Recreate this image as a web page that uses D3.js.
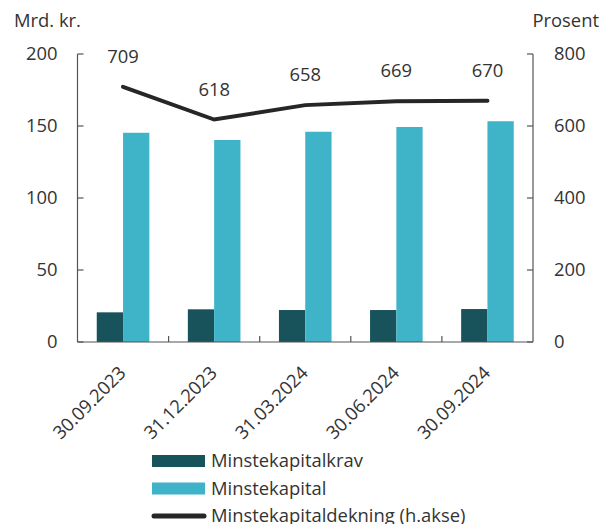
<!DOCTYPE html>
<html>
<head>
<meta charset="utf-8">
<script src="https://cdn.jsdelivr.net/npm/d3@7"></script>
<style>
  body { margin: 0; background: #fff; }
  svg { display: block; font-family: "Open Sans", sans-serif; }
  text { fill: #333; }
</style>
</head>
<body>
<script>
var dates = ['30.09.2023', '31.12.2023', '31.03.2024', '30.06.2024', '30.09.2024'];
var krav = [20.6, 22.7, 22.2, 22.2, 22.9];
var kapital = [145.3, 140.3, 146.0, 149.3, 153.3];
var dekning = [709, 618, 658, 669, 670];
var leftTicks = [0, 50, 100, 150, 200];
var rightTicks = [0, 200, 400, 600, 800];
var legendNames = ['Minstekapitalkrav', 'Minstekapital', 'Minstekapitaldekning (h.akse)'];

var w = 600, h = 524;
var m = { left: 77.5, right: 67, top: 54, bottom: 182 };
var dark = '#18535b', light = '#3fb4c8', lineCol = '#262626';
var fs = '18.4px';

var svg = d3.select('body').append('svg')
  .attr('width', w)
  .attr('height', h);

var x = d3.scaleBand()
  .domain(dates)
  .range([m.left, w - m.right]);

var yL = d3.scaleLinear().domain([0, 200]).range([h - m.bottom, m.top]);
var yR = d3.scaleLinear().domain([0, 800]).range([h - m.bottom, m.top]);

var barW = 26.3;

// bars
svg.selectAll('rect.krav')
  .data(dates)
  .enter().append('rect')
  .attr('x', function (d) { return x(d) + x.bandwidth() / 2 - barW; })
  .attr('y', function (d, i) { return yL(krav[i]); })
  .attr('width', barW)
  .attr('height', function (d, i) { return yL(0) - yL(krav[i]); })
  .attr('fill', dark);

svg.selectAll('rect.kap')
  .data(dates)
  .enter().append('rect')
  .attr('x', function (d) { return x(d) + x.bandwidth() / 2; })
  .attr('y', function (d, i) { return yL(kapital[i]); })
  .attr('width', barW)
  .attr('height', function (d, i) { return yL(0) - yL(kapital[i]); })
  .attr('fill', light);

// axes
var axisCol = '#555';
svg.append('line')
  .attr('x1', m.left).attr('x2', m.left)
  .attr('y1', m.top).attr('y2', yL(0))
  .attr('stroke', axisCol).attr('stroke-width', 1.2);
svg.append('line')
  .attr('x1', w - m.right).attr('x2', w - m.right)
  .attr('y1', m.top).attr('y2', yL(0))
  .attr('stroke', axisCol).attr('stroke-width', 1.2);
svg.append('line')
  .attr('x1', m.left).attr('x2', w - m.right)
  .attr('y1', yL(0)).attr('y2', yL(0))
  .attr('stroke', axisCol).attr('stroke-width', 1.2);

svg.selectAll('line.lt')
  .data(leftTicks)
  .enter().append('line')
  .attr('x1', m.left).attr('x2', m.left + 6)
  .attr('y1', function (d) { return yL(d); })
  .attr('y2', function (d) { return yL(d); })
  .attr('stroke', axisCol).attr('stroke-width', 1.2);

svg.selectAll('text.lt')
  .data(leftTicks)
  .enter().append('text')
  .attr('x', m.left - 20)
  .attr('y', function (d) { return yL(d); })
  .attr('dy', '0.35em')
  .attr('text-anchor', 'end')
  .style('font-size', fs)
  .text(function (d) { return d; });

svg.selectAll('line.rt')
  .data(rightTicks)
  .enter().append('line')
  .attr('x1', w - m.right - 6).attr('x2', w - m.right)
  .attr('y1', function (d) { return yR(d); })
  .attr('y2', function (d) { return yR(d); })
  .attr('stroke', axisCol).attr('stroke-width', 1.2);

svg.selectAll('text.rt')
  .data(rightTicks)
  .enter().append('text')
  .attr('x', w - m.right + 21)
  .attr('y', function (d) { return yR(d); })
  .attr('dy', '0.35em')
  .style('font-size', fs)
  .text(function (d) { return d; });

// category ticks between bands
svg.selectAll('line.ct')
  .data(dates.slice(1))
  .enter().append('line')
  .attr('x1', function (d) { return x(d); })
  .attr('x2', function (d) { return x(d); })
  .attr('y1', yL(0)).attr('y2', yL(0) - 6)
  .attr('stroke', axisCol).attr('stroke-width', 1.2);

svg.selectAll('text.cat')
  .data(dates)
  .enter().append('text')
  .attr('text-anchor', 'end')
  .attr('transform', function (d) {
    return 'translate(' + (x(d) + x.bandwidth() / 2 + 4) + ',' + (yL(0) + 32) + ') rotate(-45)';
  })
  .style('font-size', fs)
  .text(function (d) { return d; });

// axis titles
svg.append('text')
  .attr('x', 14).attr('y', 27)
  .style('font-size', fs)
  .text('Mrd. kr.');
svg.append('text')
  .attr('x', 599).attr('y', 27)
  .attr('text-anchor', 'end')
  .style('font-size', fs)
  .text('Prosent');

// line
var line = d3.line()
  .x(function (d, i) { return x(dates[i]) + x.bandwidth() / 2; })
  .y(function (d) { return yR(d); });

svg.append('path')
  .datum(dekning)
  .attr('d', line)
  .attr('fill', 'none')
  .attr('stroke', lineCol)
  .attr('stroke-width', 4)
  .attr('stroke-linecap', 'round');

svg.selectAll('text.val')
  .data(dekning)
  .enter().append('text')
  .attr('x', function (d, i) { return x(dates[i]) + x.bandwidth() / 2; })
  .attr('y', function (d) { return yR(d) - 24; })
  .attr('text-anchor', 'middle')
  .style('font-size', fs)
  .text(function (d) { return d; });

// legend
var lg = svg.selectAll('g.leg')
  .data(legendNames)
  .enter().append('g')
  .attr('transform', function (d, i) { return 'translate(152,' + (461 + i * 27.5) + ')'; });

lg.append('rect')
  .filter(function (d, i) { return i < 2; })
  .attr('x', 0).attr('y', -6)
  .attr('width', 53).attr('height', 12)
  .attr('fill', function (d, i) { return i === 0 ? dark : light; });

lg.filter(function (d, i) { return i === 2; })
  .append('line')
  .attr('x1', 2).attr('x2', 52)
  .attr('stroke', lineCol).attr('stroke-width', 5)
  .attr('stroke-linecap', 'round');

lg.append('text')
  .attr('x', 59)
  .attr('dy', '0.35em')
  .style('font-size', fs)
  .text(function (d) { return d; });
</script>
</body>
</html>
